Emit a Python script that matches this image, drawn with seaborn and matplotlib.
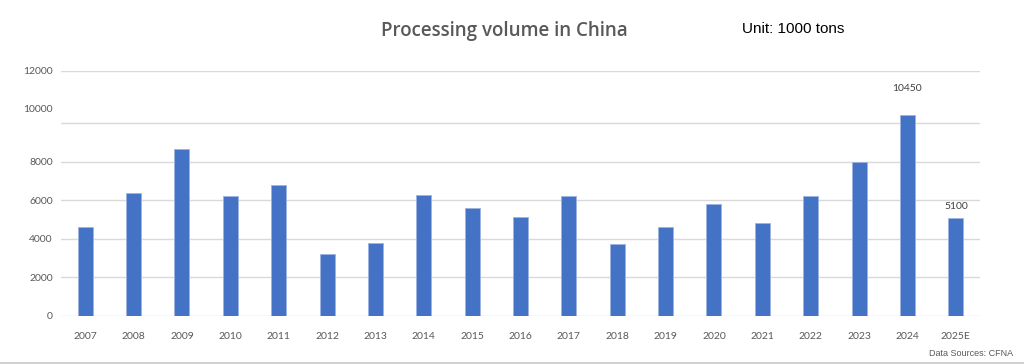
import matplotlib
matplotlib.use("Agg")
from matplotlib import pyplot as plt
from matplotlib.transforms import ScaledTranslation
import pandas as pd
import seaborn as sns

# Processing volume in China, unit: 1000 tons
years = ['2007', '2008', '2009', '2010', '2011', '2012', '2013', '2014', '2015', '2016',
         '2017', '2018', '2019', '2020', '2021', '2022', '2023', '2024', '2025E']
volume = [4600, 6400, 8650, 6200, 6800, 3200, 3800, 6300, 5600, 5150,
          6200, 3750, 4600, 5800, 4800, 6200, 8000, 10450, 5100]
labelled_years = ['2024', '2025E']

ytick_values = [0, 2000, 4000, 6000, 8000, 10000, 12750]
ytick_labels = ['0', '2000', '4000', '6000', '8000', '10000', '12000']

df = pd.DataFrame({'Year': years, 'Volume': volume})

sns.set_style("white")
plt.rcParams['font.family'] = ['Lato', 'DejaVu Sans']

fig = plt.figure(figsize=(10.24, 3.64), dpi=100)
ax = fig.add_axes([61 / 1024, 1 - 315.5 / 364, 919 / 1024, (315.5 - 70.7) / 364])

sns.barplot(data=df, x='Year', y='Volume', color='#4472C4', width=0.31,
            edgecolor='#9db3e0', linewidth=0.6, saturation=1, ax=ax, zorder=3)

ax.set_ylim(0, 12750)
ax.set_yticks(ytick_values)
ax.set_yticklabels(ytick_labels)
ax.grid(axis='y', color='#d9d9d9', linewidth=1, zorder=0)
ax.grid(axis='x', visible=False)
for s in ax.spines.values():
    s.set_visible(False)
ax.tick_params(axis='both', length=0, labelsize=7.5, labelcolor='#595959')
ax.tick_params(axis='y', pad=6)
ax.tick_params(axis='x', pad=12)
ax.set_xlabel('')
ax.set_ylabel('')

# the 10000 label sits a bit above its gridline in the original
lab = ax.get_yticklabels()[5]
lab.set_transform(lab.get_transform() + ScaledTranslation(0, 15 / 100, fig.dpi_scale_trans))

# data labels
for i, (yr, v) in enumerate(zip(years, volume)):
    if yr in labelled_years:
        off = 16 if yr == '2024' else 4.5
        ax.annotate(str(v), (i, v), xytext=(0, off), textcoords='offset points',
                    ha='center', va='bottom', fontsize=7.5, color='#404040')

fig.text(504 / 1024, 1 - 31 / 364, 'Processing volume in China', ha='center', va='center',
         fontsize=13.5, fontweight='semibold', color='#595959', family=['Open Sans', 'DejaVu Sans'])
fig.text(742 / 1024, 1 - 29 / 364, 'Unit: 1000 tons', ha='left', va='center',
         fontsize=11, color='black', family=['Liberation Sans', 'DejaVu Sans'])
fig.text(1013 / 1024, 1 - 354 / 364, 'Data Sources: CFNA', ha='right', va='center',
         fontsize=6.5, color='#595959', family=['Liberation Sans', 'DejaVu Sans'])
fig.add_artist(plt.Line2D([0, 1], [1 - 362.5 / 364] * 2, color='#c8c8c8', linewidth=1.2))

plt.savefig('out.png', dpi=100)
